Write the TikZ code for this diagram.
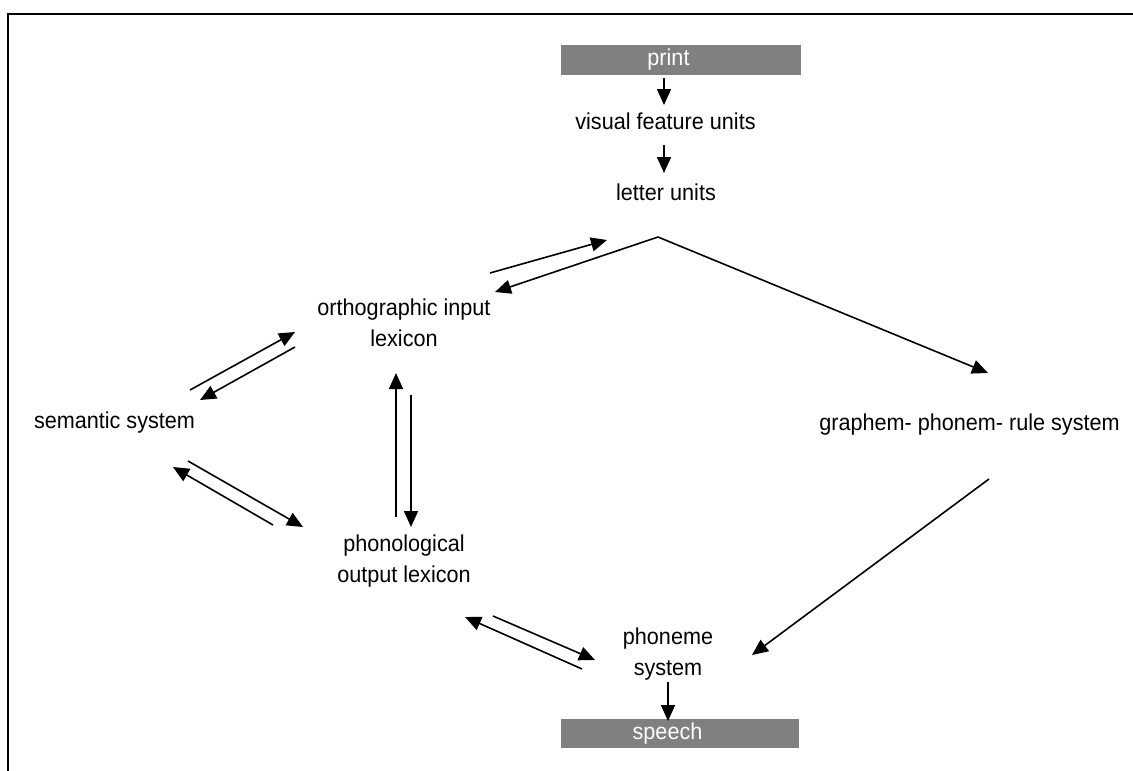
\documentclass[tikz,border=0pt]{standalone}
\usepackage{fontspec}
\setmainfont[FakeStretch=0.94]{Liberation Sans}
\usetikzlibrary{arrows.meta,calc}
\definecolor{boxgray}{RGB}{128,128,128}
% label inside a grey bar, set a little left of the bar's middle and slightly low
\newcommand{\barlabel}[1]{\hspace*{-24pt}\raisebox{-2.5pt}{#1}}
\begin{document}
\begin{tikzpicture}[x=1pt,y=-1pt,
  lbl/.style={font=\fontsize{23}{31}\selectfont, inner sep=0pt, align=center},
  bar/.style={fill=boxgray, inner sep=0pt, text=white,
    font=\fontsize{23}{31}\selectfont},
  conn/.style={line width=1.6pt, -{Triangle[length=16pt,width=14pt]}}]
\useasboundingbox (0,0) rectangle (1133,771);
% frame
\draw[line width=2pt] (8,771) -- (8,14) -- (1133,14);

% nodes
\node[bar, minimum width=240pt, minimum height=30pt] (print) at (680.5,60) {\barlabel{print}};
\node[lbl] (visual) at (665.5,121) {visual feature units};
\node[lbl] (letter) at (666,192) {letter units};
\node[lbl] (ortho) at (404,323) {orthographic input\\lexicon};
\node[lbl] (semantic) at (114.5,423) {semantic system};
\node[lbl] (graph) at (969.5,425) {graphem- phonem- rule system};
\node[lbl] (phono) at (404,561) {phonological\\output lexicon};
\node[lbl] (phoneme) at (668,654) {phoneme\\system};
\node[bar, minimum width=238pt, minimum height=29pt] (speech) at (679.5,733.5) {\barlabel{speech}};

% branching point below the letter units
\coordinate (fork) at ($(letter)+(-8,45)$);

% vertical input chain
\draw[conn] ($(print)+(-16.5,18)$) -- ($(visual)+(-1.5,-16)$);
\draw[conn] ($(visual)+(-1.5,24)$) -- ($(letter)+(-2,-19)$);

% letter units <-> orthographic input lexicon
\draw[conn] (fork) -- ($(ortho)+(91,-31)$);
\draw[conn] ($(ortho)+(86,-50)$) -- ($(letter)+(-59,48)$);

% letter units -> grapheme-phoneme rules
\draw[conn] (fork) -- ($(graph)+(18.5,-52)$);

% orthographic lexicon <-> semantic system
\draw[conn] ($(semantic)+(75.5,-33)$) -- ($(ortho)+(-109,9)$);
\draw[conn] ($(ortho)+(-109,24)$) -- ($(semantic)+(85.5,-23)$);

% orthographic lexicon <-> phonological lexicon
\draw[conn] ($(phono)+(-8,-44)$) -- ($(ortho)+(-8,50)$);
\draw[conn] ($(ortho)+(7,72)$) -- ($(phono)+(7,-34)$);

% semantic system <-> phonological lexicon
\draw[conn] ($(semantic)+(73.5,38)$) -- ($(phono)+(-101,-34)$);
\draw[conn] ($(phono)+(-131,-36)$) -- ($(semantic)+(58.5,44)$);

% phonological lexicon <-> phoneme system
\draw[conn] ($(phono)+(89,55)$) -- ($(phoneme)+(-73,6)$);
\draw[conn] ($(phoneme)+(-86,15)$) -- ($(phono)+(61,56)$);

% grapheme-phoneme rules -> phoneme system
\draw[conn] ($(graph)+(19.5,54)$) -- ($(phoneme)+(84,1)$);

% phoneme system -> speech
\draw[conn] ($(phoneme)+(0,28)$) -- ($(speech)+(-11.5,-12.5)$);
\end{tikzpicture}
\end{document}
